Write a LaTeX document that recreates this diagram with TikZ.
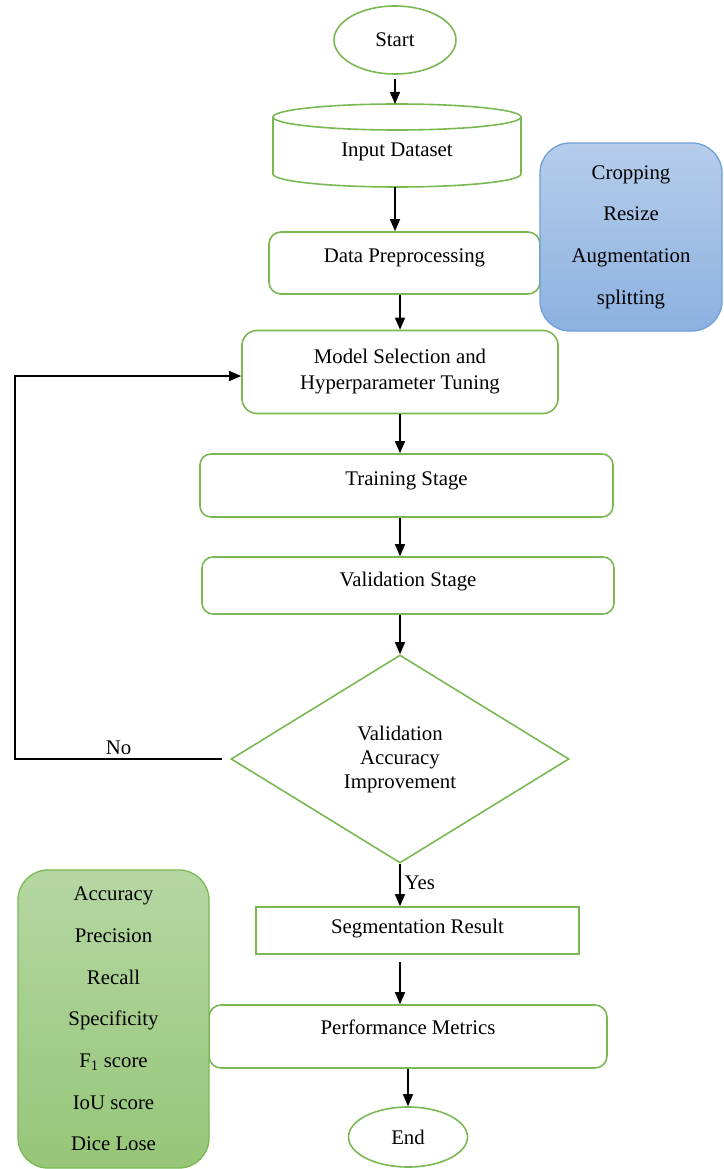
\documentclass[tikz,border=0pt]{standalone}
\usepackage{fontspec}
\setmainfont{Liberation Serif}
\usetikzlibrary{arrows.meta,shapes.geometric}
\definecolor{gline}{RGB}{122,184,84}
\definecolor{greenT}{RGB}{181,215,163}
\definecolor{greenB}{RGB}{150,198,120}
\definecolor{bline}{RGB}{112,160,214}
\definecolor{blueT}{RGB}{182,205,235}
\definecolor{blueB}{RGB}{140,177,224}
\begin{document}
\begin{tikzpicture}[x=1pt,y=-1pt,
  every node/.style={font=\fontsize{20.8}{25}\selectfont},
  gbox/.style={draw=gline, line width=1.6pt, inner sep=0pt},
  rbox/.style={gbox, rounded corners=12pt},
  arr/.style={-{Triangle[length=12pt,width=10pt]}, line width=1.3pt, black},
  listbox/.style={line width=1.3pt, rounded corners=30pt, align=center, inner sep=0pt,
    font=\fontsize{20.8}{41.7}\selectfont},
  ]
\useasboundingbox (0,0) rectangle (723,1169);

% Start
\node[gbox, ellipse, minimum width=122pt, minimum height=68pt] (start) at (395,40) {Start};

% Input Dataset (cylinder)
\draw[draw=gline, line width=1.6pt] (273,117) -- (273,174)
  arc[start angle=180, end angle=360, x radius=124pt, y radius=13pt] -- (521,117);
\draw[draw=gline, line width=1.6pt] (397,117) ellipse[x radius=124pt, y radius=13pt];
\node (input) at (397,152) {Input Dataset};
\coordinate (inTop) at (395,104);
\coordinate (inBot) at (395,187);

% Data Preprocessing
\node[rbox, minimum width=271pt, text height=30pt, text depth=32pt] (prep) at (404.5,263) {Data Preprocessing};

% Preprocessing options
\node[listbox, draw=bline, top color=blueT, bottom color=blueB,
  minimum width=182pt, minimum height=188pt] (prepopts) at (631,237)
  {Cropping\\Resize\\Augmentation\\splitting};

% Model selection
\node[rbox, rounded corners=15pt, minimum width=316pt, minimum height=83pt, align=center,
  font=\fontsize{20.8}{26}\selectfont] (model) at (400,372)
  {Model Selection and\\Hyperparameter Tuning};

% Training
\node[rbox, rounded corners=11pt, minimum width=413pt, text height=31pt, text depth=32pt] (train) at (406.5,485.5) {Training Stage};

% Validation
\node[rbox, rounded corners=11pt, minimum width=412pt, text height=29pt, text depth=28pt] (val) at (408,585.5) {Validation Stage};

% Decision
\node[gbox, diamond, aspect=1.625, minimum width=338pt, minimum height=208pt, align=center,
  font=\fontsize{20.8}{24}\selectfont] (dec) at (400,759)
  {Validation\\Accuracy\\Improvement};

% Segmentation result
\node[gbox, minimum width=323pt, text height=26pt, text depth=21pt] (seg) at (417.5,930.5) {Segmentation Result};

% Performance metrics
\node[rbox, minimum width=398pt, text height=29pt, text depth=34pt] (perf) at (408,1036.5) {Performance Metrics};

% Metrics list
\node[listbox, draw=gline, top color=greenT, bottom color=greenB,
  minimum width=191pt, minimum height=298pt] (metrics) at (113.5,1019)
  {Accuracy\\Precision\\Recall\\Specificity\\F\textsubscript{1} score\\IoU score\\Dice Lose};

% End
\node[gbox, ellipse, minimum width=119pt, minimum height=60pt] (end) at (408,1137) {End};

% Connectors
\draw[arr] ([yshift=-4pt]start.south) -- (inTop);
\draw[arr] (inBot) -- (inBot |- prep.north);
\draw[arr] (prep.south -| model.north) -- (model.north);
\draw[arr] (model.south) -- (model.south |- train.north);
\draw[arr] (model.south |- train.south) -- (model.south |- val.north);
\draw[arr] (model.south |- val.south) -- (dec.north);
\draw[arr] (dec.south) -- node[right, inner sep=4pt, pos=0.45] {Yes} (dec.south |- seg.north);
\draw[arr] ([yshift=-7pt]dec.south |- seg.south) -- (dec.south |- perf.north);
\draw[arr] (perf.south -| end.north) -- (end.north);

\coordinate (loop) at (15,759);
\draw[arr] ([xshift=-8pt]dec.west) -- node[above] {No} (loop) |- ([yshift=-4pt]model.west);
\end{tikzpicture}
\end{document}
